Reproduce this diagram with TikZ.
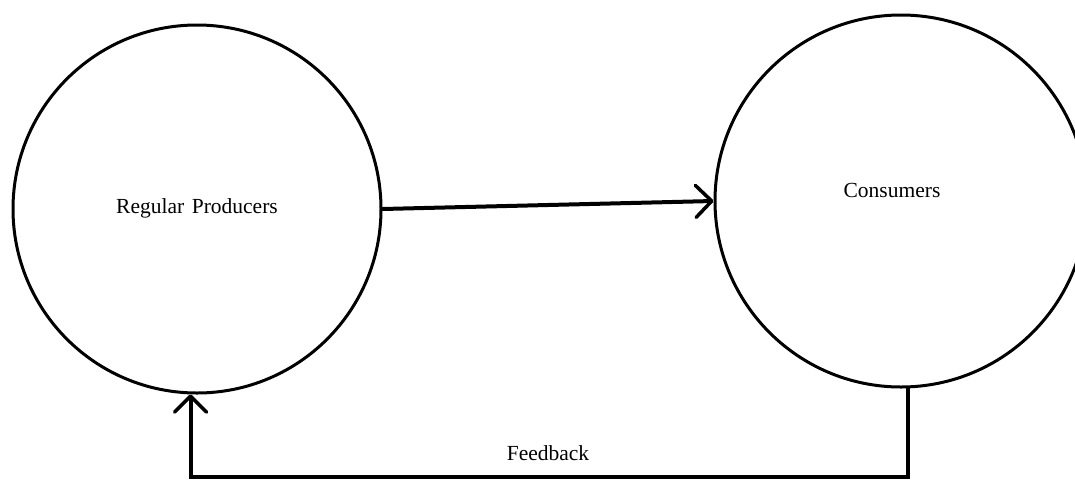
\documentclass[tikz,border=0pt]{standalone}
\usepackage{fontspec}
\setmainfont{Liberation Serif}
\usetikzlibrary{arrows.meta}
\begin{document}
\begin{tikzpicture}[x=1pt,y=-1pt,
  bubble/.style={circle,draw,line width=3pt,minimum size=370pt,inner sep=0pt},
  lbl/.style={font=\fontsize{21.5}{25}\selectfont,inner sep=0pt},
  flow/.style={line width=4pt,line cap=round,line join=miter,
    -{Straight Barb[length=16pt,width=32pt,line width=3.5pt,round]}}]
\useasboundingbox (0,0) rectangle (1075,480);
\node[bubble,minimum size=368pt] (rp) at (197,209) {};
\node[bubble,minimum size=372pt] (cons) at (901,201) {};
\node[lbl] (rpt) at (197,208) {Regular\hspace{0.35em}Producers};
\node[lbl] (ct) at (892,190) {Consumers};
\coordinate (fb) at (548,477);
\node[lbl,anchor=base] (fbt) at (548,460) {Feedback};
\draw[flow] (rp.0.6) -- (cons.west);
\draw[flow] (cons.-88) |- (fb) -| (rp.-92);
\end{tikzpicture}
\end{document}
